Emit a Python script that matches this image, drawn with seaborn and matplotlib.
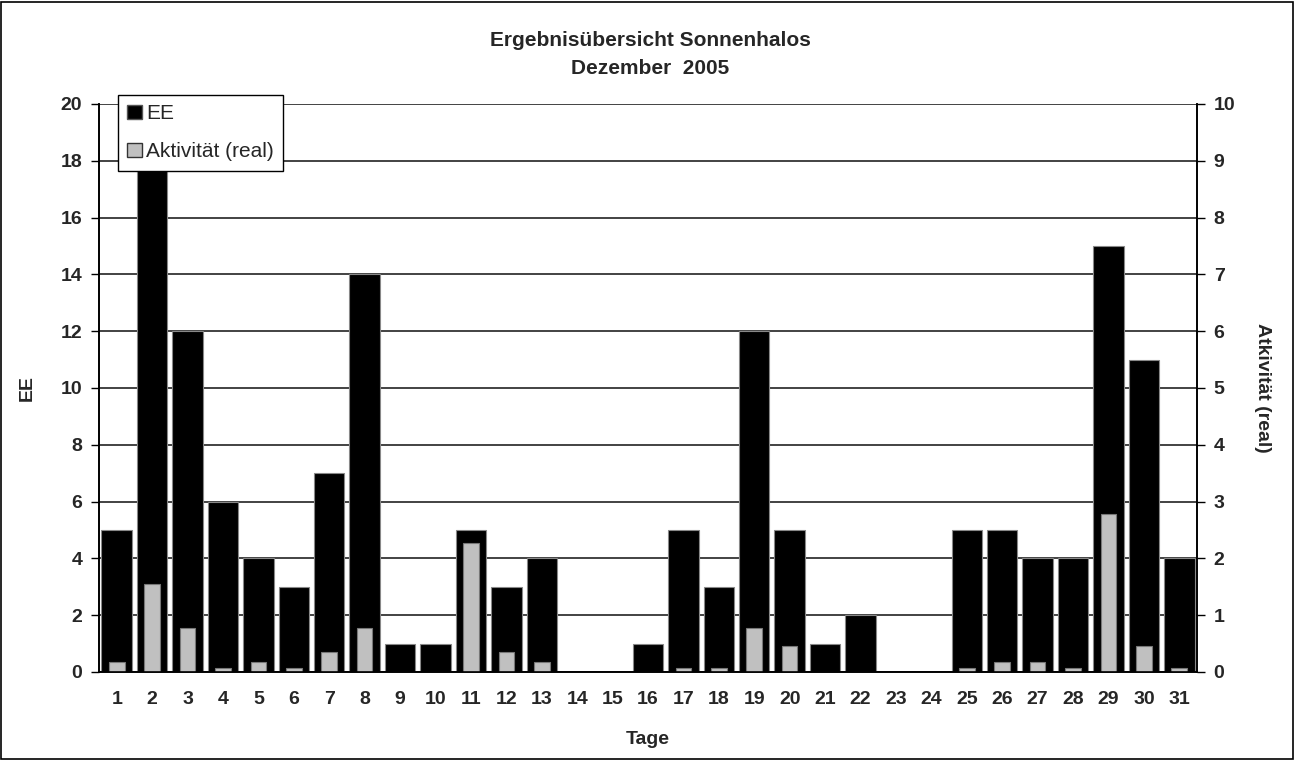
import numpy as np
import pandas as pd
import matplotlib
matplotlib.use("Agg")
import matplotlib.pyplot as plt
import seaborn as sns
from matplotlib.patches import Rectangle

# data
tage = list(range(1, 32))
ee = [5, 18, 12, 6, 4, 3, 7, 14, 1, 1, 5, 3, 4, 0, 0, 1,
      5, 3, 12, 5, 1, 2, 0, 0, 5, 5, 4, 4, 15, 11, 4]
aktivitaet = [0.18, 1.55, 0.78, 0.07, 0.18, 0.07, 0.36, 0.78, 0, 0, 2.27, 0.36, 0.18, 0, 0, 0,
              0.07, 0.07, 0.78, 0.46, 0, 0, 0, 0, 0.07, 0.18, 0.18, 0.07, 2.78, 0.46, 0.07]

df = pd.DataFrame({"Tage": [str(t) for t in tage], "EE": ee, "Akt": aktivitaet})
order = [str(t) for t in tage]

sns.set_style("white")
plt.rcParams['font.family'] = ['Liberation Sans', 'DejaVu Sans']
plt.rcParams['font.weight'] = 'bold'

W, H = 1295, 760
L, R, T, B = 99, 1197, 104, 672
fig = plt.figure(figsize=(12.95, 7.6), dpi=100)
ax = fig.add_axes([L / W, 1 - B / H, (R - L) / W, (B - T) / H])

sns.barplot(data=df, x="Tage", y="EE", order=order, color="black", width=0.86,
            edgecolor="#888888", linewidth=0.8, saturation=1, ax=ax)
ax.set_ylim(0, 20)
ax.set_yticks(range(0, 21, 2))
ax.yaxis.grid(True, color="#222222", linewidth=1.2)
ax.set_axisbelow(True)

ax2 = ax.twinx()
sns.barplot(data=df, x="Tage", y="Akt", order=order, color="#c0c0c0", width=0.44,
            edgecolor="#777777", linewidth=0.8, saturation=1, ax=ax2)
ax2.set_ylim(0, 10)
ax2.set_yticks(range(0, 11, 1))

ax.set_xlim(-0.5, 30.5)
for a in (ax, ax2):
    a.spines['top'].set_visible(False)
    for s in ('left', 'right', 'bottom'):
        a.spines[s].set_color("black")
        a.spines[s].set_linewidth(1.2)

# ticks at category boundaries
ax.set_xticks(np.arange(-0.5, 31, 1), minor=True)
ax.tick_params(axis='x', which='minor', length=7, width=1, color="black", direction='out')
ax.tick_params(axis='x', which='major', length=0, labelsize=14, pad=14)
ax.tick_params(axis='y', length=6, width=1, color="black", direction='out', labelsize=14, pad=6, left=True)
ax2.tick_params(axis='y', length=6, width=1, color="black", direction='out', labelsize=14, pad=6, right=True)

ax.set_xlabel("Tage", fontsize=14, fontweight='bold')
ax.xaxis.set_label_coords(0.5, (B - 731) / (B - T), transform=ax.transAxes)
ax.set_ylabel("EE", fontsize=14, fontweight='bold')
ax.yaxis.set_label_coords((36 - L) / (R - L), 0.5)
ax2.set_ylabel("Atkivität (real)", fontsize=14, fontweight='bold', rotation=270, va='center')
ax2.yaxis.set_label_coords((1262 - L) / (R - L), 0.5)

fig.text(650 / W, 1 - 40 / H, "Ergebnisübersicht Sonnenhalos", ha='center', va='center',
         fontsize=15, fontweight='bold')
fig.text(650 / W, 1 - 68 / H, "Dezember  2005", ha='center', va='center',
         fontsize=15, fontweight='bold')

# legend
handles = [Rectangle((0, 0), 1, 1, facecolor="black", edgecolor="#555555"),
           Rectangle((0, 0), 1, 1, facecolor="#c0c0c0", edgecolor="#333333")]
leg = ax2.legend(handles, ["EE", "Aktivität (real)"], loc='upper left',
                 bbox_to_anchor=(118 / W, 1 - 95 / H), bbox_transform=fig.transFigure,
                 frameon=True, fancybox=False, framealpha=1, edgecolor="black",
                 prop={'size': 15, 'weight': 'normal'}, handlelength=0.7, handleheight=0.7,
                 handletextpad=0.2, borderpad=0.45, labelspacing=0.9, borderaxespad=0)
leg.get_frame().set_linewidth(1.0)

# outer border
fig.patches.append(Rectangle((1 / W, 1 / H), 1 - 3 / W, 1 - 3 / H,
                             transform=fig.transFigure, fill=False, edgecolor="black", linewidth=1.2))

fig.savefig("out.png", dpi=100)
